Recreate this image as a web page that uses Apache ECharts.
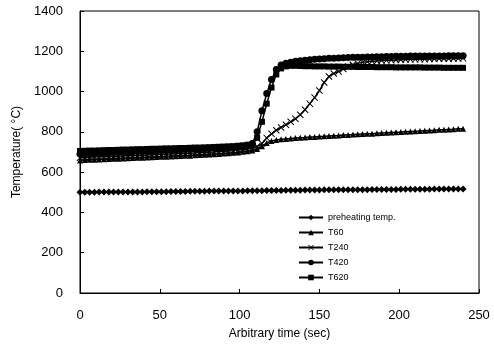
<!DOCTYPE html>
<html><head><meta charset="utf-8">
<script src="https://cdn.jsdelivr.net/npm/echarts@6/dist/echarts.min.js"></script>
<style>html,body{margin:0;padding:0;background:#fff}#c{width:494px;height:348px}</style>
</head><body><div id="c"></div>
<script>
const times = [0,3,6,9,12,15,18,21,24,27,30,33,36,39,42,45,48,51,54,57,60,63,66,69,72,75,78,81,84,87,90,93,96,99,102,105,108,111,114,117,120,123,126,129,132,135,138,141,144,147,150,153,156,159,162,165,168,171,174,177,180,183,186,189,192,195,198,201,204,207,210,213,216,219,222,225,228,231,234,237,240];
const seriesNames = ['preheating temp.','T60','T240','T420','T620'];
const preheat = [500,500,500,500,501,501,501,501,501,502,502,
 502,502,502,503,503,503,503,503,504,504,
 504,504,505,505,505,505,506,506,506,506,
 507,507,507,507,508,508,508,508,509,509,
 509,509,510,510,510,510,511,511,511,511,
 512,512,512,512,512,513,513,513,513,513,
 514,514,514,514,514,514,515,515,515,515,
 515,515,515,516,516,516,516,516,516,516];
const t60 = [658,660,661,662,663,664,665,666,667,668,669,
 670,671,672,673,674,675,676,677,678,679,
 680,681,682,684,685,686,688,689,690,692,
 694,696,698,701,704,708,715,728,745,755,
 760,763,765,767,769,771,772,774,775,777,
 778,780,781,782,784,785,787,788,789,790,
 791,793,794,795,797,798,799,801,802,803,
 804,806,807,808,810,811,812,813,815,816];
const t240 = [672,673,674,675,676,677,678,678,679,680,681,
 682,683,684,685,686,687,688,689,690,691,
 692,693,694,695,697,698,699,700,702,703,
 705,707,709,712,715,720,728,742,770,790,
 808,822,835,850,865,885,910,940,970,1005,
 1045,1075,1090,1100,1112,1125,1133,1140,1145,1148,
 1150,1152,1154,1155,1156,1157,1158,1159,1160,1160,
 1161,1161,1162,1162,1163,1163,1163,1164,1164,1165];
const t420 = [690,691,692,693,694,695,696,697,698,699,700,
 701,702,703,704,705,706,707,708,709,710,
 711,712,713,714,715,716,717,718,719,720,
 722,724,726,729,733,742,800,905,990,1060,
 1110,1132,1140,1145,1150,1153,1156,1158,1160,1162,
 1163,1165,1166,1167,1168,1169,1170,1170,1171,1172,
 1172,1173,1173,1174,1174,1175,1175,1175,1176,1176,
 1176,1176,1177,1177,1177,1177,1178,1178,1178,1178];
const t620 = [705,706,707,707,708,709,710,710,711,712,712,
 713,714,714,715,716,716,717,718,718,719,
 720,720,721,722,722,723,724,725,726,727,
 728,729,731,733,736,738,770,850,940,1020,
 1085,1115,1125,1128,1128,1127,1126,1126,1125,1125,
 1125,1124,1124,1124,1123,1123,1123,1122,1122,1122,
 1122,1121,1121,1121,1121,1120,1120,1120,1120,1120,
 1120,1119,1119,1119,1119,1118,1118,1118,1118,1118];
const xTicks = [0,50,100,150,200,250];
const yTicks = [0,200,400,600,800,1000,1200,1400];

const xPath = 'path://M0,1L1,0L5,4L9,0L10,1L6,5L10,9L9,10L5,6L1,10L0,9L4,5Z';
const values = [preheat,t60,t240,t420,t620];
const symbols = ['diamond','triangle',xPath,'circle','rect'];
const sizes = [7,6,7,7,6];
const font = 'Liberation Sans, Arial, sans-serif';

const chart = echarts.init(document.getElementById('c'), null, {renderer:'canvas'});
chart.setOption({
  animation:false,
  backgroundColor:'#fff',
  grid:{left:80,right:15,top:11,bottom:55,show:true,borderColor:'#000',borderWidth:1},
  legend:{
    orient:'vertical', left:293, top:207, itemWidth:24, itemHeight:7, itemGap:4,
    textStyle:{fontFamily:font,fontSize:9,color:'#000',lineHeight:11},
    data:seriesNames
  },
  xAxis:{
    type:'value', min:xTicks[0], max:xTicks[xTicks.length-1], interval:50,
    name:'Arbitrary time (sec)', nameLocation:'middle', nameGap:35,
    nameTextStyle:{fontFamily:font,fontSize:12,color:'#000'},
    axisLine:{lineStyle:{color:'#000',width:1}},
    axisTick:{inside:true,length:4,lineStyle:{color:'#000'}},
    axisLabel:{fontFamily:font,fontSize:13,color:'#000',margin:16,formatter:v=>String(v)},
    splitLine:{show:false}
  },
  yAxis:{
    type:'value', min:yTicks[0], max:yTicks[yTicks.length-1], interval:200,
    name:'Temperature( °C)', nameLocation:'middle', nameGap:46,
    nameTextStyle:{fontFamily:font,fontSize:12,color:'#000'},
    axisLine:{show:true,lineStyle:{color:'#000',width:1}},
    axisTick:{show:true,inside:true,length:4,lineStyle:{color:'#000'}},
    axisLabel:{fontFamily:font,fontSize:13,color:'#000',margin:17,formatter:v=>String(v)},
    splitLine:{show:false}
  },
  series: seriesNames.map((n,k)=>({
    name:n, type:'line',
    data: times.map((t,i)=>[t, values[k][i]]),
    symbol:symbols[k], symbolSize:sizes[k], showAllSymbol:true,
    lineStyle:{color:'#000',width:1.5},
    itemStyle:{color:'#000'},
    z: 2+k
  }))
});
</script></body></html>
